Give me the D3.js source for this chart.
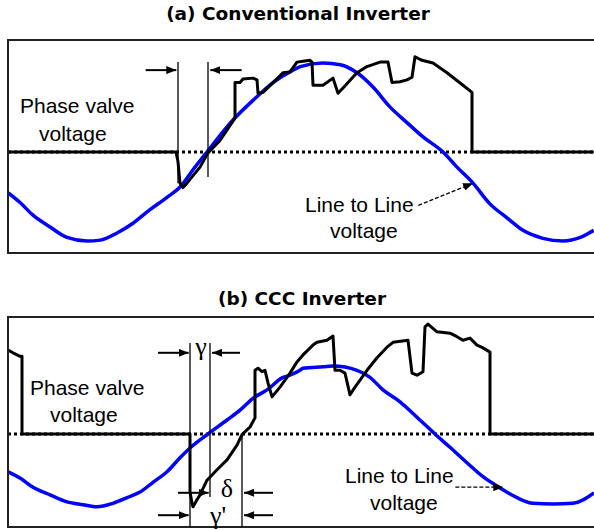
<!DOCTYPE html>
<html>
<head>
<meta charset="utf-8">
<script src="https://cdn.jsdelivr.net/npm/d3@7"></script>
<style>
  body { margin: 0; background: #fff; }
  text { font-family: "Liberation Sans", Arial, sans-serif; }
</style>
</head>
<body>
<script>
// Angles are in electrical degrees (0 = upward zero crossing of line voltage),
// voltages in per unit of the line to line peak.

// (a) conventional inverter
var convLineDeg = [-149, -140, -130.5, -118, -105, -90, -80, -67.5, -55.5, -43, -30, -20, -10.5, 0,
                   19.5, 34.5, 49.5, 64.5, 70, 87, 100, 112.5, 124.5, 137, 150, 162, 177, 187.5,
                   199.5, 212, 225, 237, 252, 267, 280, 290];
var convLineV = [-0.46, -0.57, -0.71, -0.84, -0.96, -1.0, -0.99, -0.91, -0.80, -0.65, -0.51, -0.39, -0.20, 0,
                 0.36, 0.58, 0.78, 0.92, 0.96, 1.0, 0.98, 0.89, 0.73, 0.51, 0.33, 0.17, 0, -0.17,
                 -0.35, -0.58, -0.74, -0.88, -0.97, -1.0, -0.96, -0.88];
var convValveDeg = [-150, -23.25, -21.75, -20.25, -18, -15, -11.25, -5.25, 0.75, 9.75, 21, 21, 24.75, 27,
                    34.5, 37.5, 38.25, 42, 49.5, 57, 62.25, 67.5, 72, 77.25, 78.75, 79.5, 87, 94.5,
                    98.25, 102, 112.5, 120, 129.75, 135.75, 138.75, 144.75, 150, 153.75, 156, 161.25,
                    169.5, 180, 192, 198.75, 198.75, 290];
var convValveV = [0, 0, -0.11, -0.35, -0.40, -0.35, -0.28, -0.17, -0.01, 0.13, 0.38, 0.78, 0.78, 0.82,
                  0.83, 0.81, 0.66, 0.67, 0.78, 0.89, 0.90, 1.01, 1.02, 1.03, 1.01, 0.75, 0.75, 0.83,
                  0.66, 0.72, 0.89, 0.96, 1.01, 1.01, 0.78, 0.79, 0.81, 0.84, 1.07, 1.03,
                  1.0, 0.89, 0.75, 0.67, 0, 0];

// (b) CCC inverter
var cccLineDeg = [-150, -141, -131.25, -118.5, -105.75, -93.75, -83.25, -71.25, -60.75, -51, -41.25, -30.75,
                  -21, -13.5, 0, 14.25, 24, 33.75, 44.25, 56.25, 61.5, 69, 71.25, 86.25, 93.75, 111.75,
                  121.5, 131.25, 144, 156.75, 170.25, 181.5, 194.25, 206.25, 219, 231.75, 243.75,
                  258.75, 273.75, 289.5];
var cccLineV = [-0.54, -0.63, -0.76, -0.87, -0.97, -1.01, -1.04, -0.99, -0.91, -0.83, -0.69, -0.54,
                -0.34, -0.20, 0, 0.20, 0.34, 0.51, 0.63, 0.81, 0.84, 0.91, 0.94, 0.96, 0.97, 0.91,
                0.81, 0.63, 0.46, 0.24, 0, -0.19, -0.41, -0.61, -0.77, -0.91, -0.99,
                -1.0, -0.99, -0.84];
var cccValveDeg = [-150, -146.25, -141, -139.5, -139.5, -13.5, -13.5, -12, -11.25, -8.25, -6, -0.75, 6.75,
                   14.25, 21.75, 25.5, 31.5, 35.25, 35.25, 37.5, 40.5, 42.75, 45, 48, 54, 61.5, 66.75,
                   71.25, 78.75, 81.75, 89.25, 93.75, 95.25, 99, 102.75, 106.5, 110.25, 119.25, 126.75,
                   134.25, 138.75, 150, 153, 156.75, 161.25, 162.75, 165, 171.75, 181.5, 186.75, 191.25,
                   196.5, 201.75, 206.25, 211.5, 211.5, 290];
var cccValveV = [1.20, 1.16, 1.11, 1.11, 0, 0, -0.83, -0.99, -1.04, -0.94, -0.87, -0.66, -0.51,
                 -0.37, -0.16, -0.01, 0.10, 0.23, 0.91, 0.94, 0.89, 0.91, 0.73, 0.53, 0.67, 0.87, 1.03,
                 1.13, 1.27, 1.31, 1.34, 1.40, 0.91, 0.91, 0.87, 0.56, 0.67, 0.91, 1.09,
                 1.24, 1.31, 1.34, 0.87, 0.84, 0.89, 1.53, 1.57, 1.46, 1.44, 1.39, 1.34,
                 1.37, 1.27, 1.23, 1.17, 0, 0];

var w = 594;
var h = 530;

var svg = d3.select("body")
    .append("svg")
    .attr("width", w)
    .attr("height", h);

svg.append("rect").attr("width", w).attr("height", h).attr("fill", "#fff");

// arrow heads
var defs = svg.append("defs");
defs.append("marker")
    .attr("id", "head")
    .attr("markerUnits", "userSpaceOnUse")
    .attr("viewBox", "0 0 10 8")
    .attr("refX", 10).attr("refY", 4)
    .attr("markerWidth", 10).attr("markerHeight", 8)
    .attr("orient", "auto")
  .append("path")
    .attr("d", "M0,0L10,4L0,8Z")
    .attr("fill", "#000");

// titles
svg.append("text")
    .attr("x", 298).attr("y", 20)
    .attr("text-anchor", "middle")
    .style("font-family", "'DejaVu Sans', Verdana, sans-serif")
    .style("font-weight", "bold")
    .style("font-size", "18.5px")
    .text("(a) Conventional Inverter");

svg.append("text")
    .attr("x", 302).attr("y", 305)
    .attr("text-anchor", "middle")
    .style("font-family", "'DejaVu Sans', Verdana, sans-serif")
    .style("font-weight", "bold")
    .style("font-size", "18.5px")
    .text("(b) CCC Inverter");

function drawPanel(p) {
  var x = d3.scaleLinear().domain([0, 180]).range(p.xr);
  var y = d3.scaleLinear().domain([-1, 1]).range(p.yr);

  var g = svg.append("g");

  g.append("clipPath").attr("id", p.id)
    .append("rect")
    .attr("x", 8).attr("y", p.top)
    .attr("width", w - 8).attr("height", p.bottom - p.top);

  var plot = g.append("g").attr("clip-path", "url(#" + p.id + ")");

  // zero axis (dotted)
  plot.append("line")
      .attr("x1", 8).attr("x2", w)
      .attr("y1", y(0)).attr("y2", y(0))
      .attr("stroke", "#000")
      .attr("stroke-width", 3)
      .attr("stroke-dasharray", "3,3");

  var line = d3.line()
      .x(function(d) { return x(d[0]); })
      .y(function(d) { return y(d[1]); });

  // line to line voltage
  plot.append("path")
      .attr("d", line.curve(d3.curveMonotoneX)(d3.zip(p.lineDeg, p.lineV)))
      .attr("fill", "none")
      .attr("stroke", "#0000ff")
      .attr("stroke-width", 3.5);

  // phase valve voltage
  plot.append("path")
      .attr("d", line.curve(d3.curveLinear)(d3.zip(p.valveDeg, p.valveV)))
      .attr("fill", "none")
      .attr("stroke", "#000")
      .attr("stroke-width", 3)
      .attr("stroke-linejoin", "round");

  // frame: left, top and bottom only
  g.append("path")
      .attr("d", "M" + w + "," + p.top + "H8V" + p.bottom + "H" + w)
      .attr("fill", "none")
      .attr("stroke", "#222")
      .attr("stroke-width", 2);

  // text labels
  var lab = g.append("g").style("font-size", "21px").attr("fill", "#000");
  p.labels.forEach(function(l) {
    lab.append("text").attr("x", l[0]).attr("y", l[1]).text(l[2]);
  });

  // dashed pointer to the line voltage
  g.append("line")
      .attr("x1", x(p.pointer[0])).attr("y1", y(p.pointer[1]))
      .attr("x2", x(p.pointer[2])).attr("y2", y(p.pointer[3]))
      .attr("stroke", "#000")
      .attr("stroke-width", 1.3)
      .attr("stroke-dasharray", "4,2")
      .attr("marker-end", "url(#head)");

  // angle markers
  p.marks.forEach(function(m) {
    g.append("line")
        .attr("x1", x(m[0])).attr("x2", x(m[0]))
        .attr("y1", y(m[1])).attr("y2", y(m[2]))
        .attr("stroke", "#000")
        .attr("stroke-width", 1.3);
  });
  p.arrows.forEach(function(a) {
    g.append("line")
        .attr("x1", x(a[0])).attr("x2", x(a[1]))
        .attr("y1", y(a[2])).attr("y2", y(a[2]))
        .attr("stroke", "#000")
        .attr("stroke-width", 2)
        .attr("marker-end", "url(#head)");
  });
  (p.greek || []).forEach(function(t) {
    g.append("text")
        .attr("x", x(t[0])).attr("y", y(t[1]))
        .attr("text-anchor", "middle")
        .style("font-family", "'Liberation Serif', 'Times New Roman', serif")
        .style("font-size", "26px")
        .text(t[2]);
  });

  return g;
}

drawPanel({
  id: "clipA", top: 40, bottom: 253,
  xr: [207, 447], yr: [241, 63],
  lineDeg: convLineDeg, lineV: convLineV,
  valveDeg: convValveDeg, valveV: convValveV,
  labels: [[20, 113, "Phase valve"], [39, 141, "voltage"],
           [305, 212, "Line to Line"], [330, 238, "voltage"]],
  pointer: [158.5, -0.6, 199.5, -0.35],
  marks: [[-21.75, 1.01, -0.35], [0.75, 1.01, -0.28]],
  arrows: [[-46, -23, 0.92], [26, 2.5, 0.92]]
});

drawPanel({
  id: "clipB", top: 317, bottom: 527,
  xr: [208, 448], yr: [504, 364],
  lineDeg: cccLineDeg, lineV: cccLineV,
  valveDeg: cccValveDeg, valveV: cccValveV,
  labels: [[30, 395, "Phase valve"], [50, 422, "voltage"],
           [345, 483, "Line to Line"], [370, 510, "voltage"]],
  pointer: [185.5, -0.76, 221.5, -0.76],
  marks: [[-13.5, 1.3, -1.33], [1.5, 1.3, -0.9], [25.5, 0, -1.33]],
  arrows: [[-37.5, -14.5, 1.16], [24, 3, 1.16],
           [-22.5, 0.5, -0.84], [48.75, 27, -0.84],
           [-37.5, -14.5, -1.16], [48.75, 27, -1.16]],
  greek: [[-5.25, 1.13, "γ"], [14.25, -0.9, "δ"], [7.5, -1.28, "γ'"]]
});
</script>
</body>
</html>
